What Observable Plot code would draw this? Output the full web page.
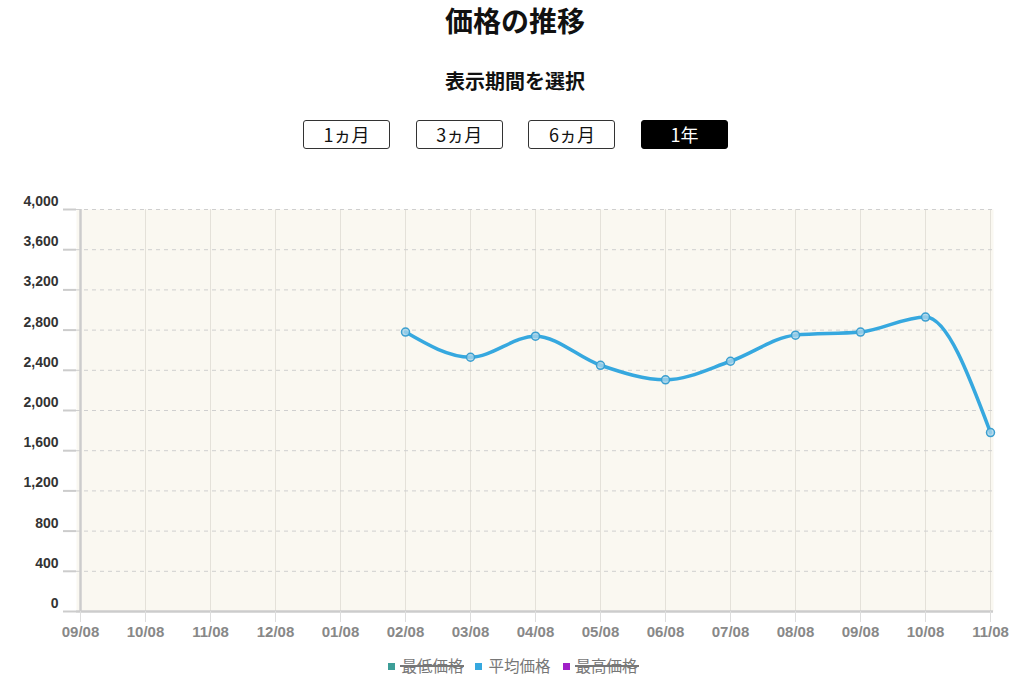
<!DOCTYPE html>
<html>
<head>
<meta charset="utf-8">
<script src="https://cdn.jsdelivr.net/npm/d3@7"></script>
<script src="https://cdn.jsdelivr.net/npm/@observablehq/plot@0.6"></script>
<style>
  html, body { margin: 0; padding: 0; background: #fff; }
  body { width: 1022px; height: 687px; position: relative; overflow: hidden; font-family: "Noto Sans CJK JP", "Noto Sans", sans-serif; }
  #title { position: absolute; top: 3px; left: 4px; width: 1022px; text-align: center; font-size: 28px; font-weight: bold; line-height: 34px; color: #111; }
  #subtitle { position: absolute; top: 67px; left: 4px; width: 1022px; text-align: center; font-size: 20px; font-weight: bold; line-height: 28px; color: #111; }
  .btn { position: absolute; top: 120px; width: 85px; height: 27px; border: 1px solid #333; border-radius: 3px; background: #fff; color: #111; font-size: 18px; line-height: 27px; text-align: center; }
  .btn.active { background: #000; color: #fff; border-color: #000; }
  #chart { position: absolute; top: 190px; left: 0; }
  #legend { position: absolute; top: 654px; left: 2px; width: 1022px; text-align: center; font-size: 15.5px; color: #777; line-height: 22px; }
  #legend span.item { margin: 0 6px; }
  #legend span.sw { display: inline-block; width: 7px; height: 7px; margin-right: 6px; vertical-align: 2px; }
  #legend span.txt { position: relative; display: inline-block; }
  #legend span.strike { position: absolute; left: -1px; right: -1px; top: 52%; height: 1.5px; background: #777; }
</style>
</head>
<body>
<div id="title">価格の推移</div>
<div id="subtitle">表示期間を選択</div>
<div id="buttons"></div>
<div id="chart"></div>
<div id="legend"></div>
<script>
const months = ["09/08","10/08","11/08","12/08","01/08","02/08","03/08","04/08","05/08","06/08","07/08","08/08","09/08 ","10/08 ","11/08 "];
const monthLabels = ["09/08","10/08","11/08","12/08","01/08","02/08","03/08","04/08","05/08","06/08","07/08","08/08","09/08","10/08","11/08"];
const avgMonths = ["02/08","03/08","04/08","05/08","06/08","07/08","08/08","09/08 ","10/08 ","11/08 "];
const avgPrices = [2780, 2530, 2740, 2450, 2305, 2490, 2750, 2780, 2930, 1780];
const yTicks = [0, 400, 800, 1200, 1600, 2000, 2400, 2800, 3200, 3600, 4000];
const periodButtons = ["1ヵ月", "3ヵ月", "6ヵ月", "1年"];
const activeButton = "1年";
const legendNames = ["最低価格", "平均価格", "最高価格"];
const legendColors = ["#3d9e98", "#36a8df", "#a020c8"];
const legendHidden = [true, false, true];

// buttons
const btnWrap = document.getElementById("buttons");
periodButtons.forEach((b, i) => {
  const d = document.createElement("div");
  d.className = "btn" + (b === activeButton ? " active" : "");
  d.style.left = (303 + i * 112.7) + "px";
  d.textContent = b;
  btnWrap.appendChild(d);
});

// legend
const lg = document.getElementById("legend");
legendNames.forEach((n, i) => {
  const s = document.createElement("span");
  s.className = "item";
  const sw = document.createElement("span");
  sw.className = "sw";
  sw.style.background = legendColors[i];
  const t = document.createElement("span");
  t.className = "txt";
  t.textContent = n;
  if (legendHidden[i]) {
    const st = document.createElement("span");
    st.className = "strike";
    t.appendChild(st);
  }
  s.appendChild(sw); s.appendChild(t);
  lg.appendChild(s);
});

const data = avgMonths.map((m, i) => ({month: m, price: avgPrices[i]}));
const labelOf = new Map(months.map((m, i) => [m, monthLabels[i]]));

const chart = Plot.plot({
  width: 1022,
  height: 460,
  marginLeft: 76,
  marginRight: 29,
  marginTop: 19,
  marginBottom: 39,
  style: { fontFamily: "'Liberation Sans', sans-serif", background: "transparent" },
  x: { type: "point", domain: months, padding: 0 },
  y: { domain: [0, 4000] },
  marks: [
    Plot.frame({ fill: "#faf8f1", stroke: null }),
    Plot.ruleX(months, { stroke: "#e4e1d9", strokeWidth: 1 }),
    Plot.ruleY(yTicks.filter(d => d > 0), { stroke: "#cfcfcf", strokeDasharray: "4,4", strokeWidth: 1 }),
    Plot.ruleX([months[0]], { stroke: "#cccccc", strokeWidth: 2.5 }),
    Plot.ruleY([0], { stroke: "#cccccc", strokeWidth: 2.5 }),
    Plot.axisY({
      ticks: yTicks, tickSize: 13, stroke: "#cccccc", strokeWidth: 2, tickFormat: () => "", label: null
    }),
    Plot.axisY({
      ticks: yTicks, tickSize: 0, tickPadding: 18, tickFormat: d3.format(","),
      fill: "#333", fontWeight: "bold", fontSize: 14, dy: -8, label: null
    }),
    Plot.axisX({
      tickSize: 11, tickPadding: 4, stroke: "#dddddd", strokeWidth: 1,
      tickFormat: d => labelOf.get(d), fill: "#888", fontWeight: "bold", fontSize: 15, label: null
    }),
    Plot.line(data, { x: "month", y: "price", stroke: "#36a8df", strokeWidth: 3.5, curve: "monotone-x" }),
    Plot.dot(data, { x: "month", y: "price", r: 4, stroke: "#3b9fd0", strokeWidth: 1.5, fill: "#a8d3ea", fillOpacity: 0.8 })
  ]
});
document.getElementById("chart").appendChild(chart);
</script>
</body>
</html>
